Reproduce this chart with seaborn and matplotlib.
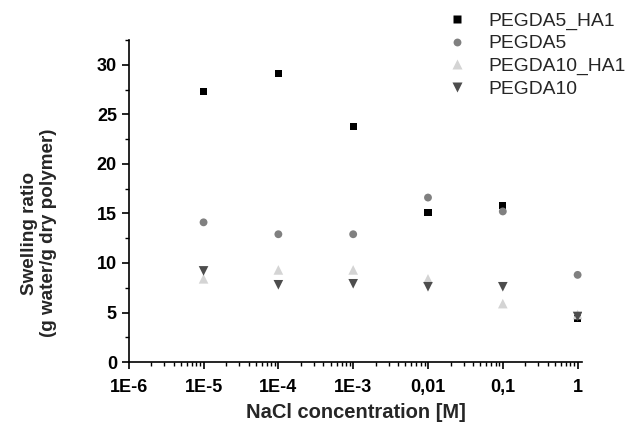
import matplotlib
matplotlib.use("Agg")
import matplotlib.pyplot as plt
import seaborn as sns
import pandas as pd
from matplotlib.ticker import FixedLocator, FixedFormatter, LogLocator, AutoMinorLocator, NullFormatter

sns.set_theme(style="white")
plt.rcParams['font.family'] = ['Liberation Sans', 'DejaVu Sans']

# NaCl concentration [M]
conc = [1e-5, 1e-4, 1e-3, 1e-2, 1e-1, 1]
tick_pos = [1e-6, 1e-5, 1e-4, 1e-3, 1e-2, 1e-1, 1]
tick_labels = ['1E-6', '1E-5', '1E-4', '1E-3', '0,01', '0,1', '1']

series_names = ['PEGDA5_HA1', 'PEGDA5', 'PEGDA10_HA1', 'PEGDA10']
pegda5_ha1 = [27.3, 29.1, 23.8, 15.1, 15.8, 4.4]
pegda5 = [14.1, 12.9, 12.9, 16.6, 15.2, 8.8]
pegda10_ha1 = [8.4, 9.3, 9.3, 8.4, 5.9, 4.8]
pegda10 = [9.2, 7.8, 7.9, 7.6, 7.6, 4.6]

rows = []
for name, vals in zip(series_names, [pegda5_ha1, pegda5, pegda10_ha1, pegda10]):
    for c, v in zip(conc, vals):
        rows.append({'conc': c, 'ratio': v, 'sample': name})
df = pd.DataFrame(rows)

colors = {'PEGDA5_HA1': '#000000', 'PEGDA5': '#808080',
          'PEGDA10_HA1': '#d4d4d4', 'PEGDA10': '#4d4d4d'}
markers = {'PEGDA5_HA1': 's', 'PEGDA5': 'o', 'PEGDA10_HA1': '^', 'PEGDA10': 'v'}
sizes = {'PEGDA5_HA1': 28, 'PEGDA5': 32, 'PEGDA10_HA1': 48, 'PEGDA10': 48}

fig = plt.figure(figsize=(6.28, 4.25), dpi=100)
ax = fig.add_axes([0.205, 0.148, 0.722, 0.758])

sns.scatterplot(data=df, x='conc', y='ratio', hue='sample', style='sample',
                size='sample', sizes=sizes, palette=colors, markers=markers,
                hue_order=series_names, style_order=series_names,
                size_order=series_names, edgecolor='none', ax=ax)

ax.set_xscale('log')
ax.set_xlim(1e-6, 1.15)
ax.set_ylim(0, 32.5)

ax.xaxis.set_major_locator(FixedLocator(tick_pos))
ax.xaxis.set_major_formatter(FixedFormatter(tick_labels))
ax.xaxis.set_minor_locator(LogLocator(base=10, subs=range(2, 10), numticks=20))
ax.xaxis.set_minor_formatter(NullFormatter())
ax.set_yticks([0, 5, 10, 15, 20, 25, 30])
ax.yaxis.set_minor_locator(AutoMinorLocator(2))

ax.tick_params(axis='both', which='major', direction='out', length=5, width=1.2,
               labelsize=13, color='black', labelcolor='black', bottom=True, left=True)
ax.tick_params(axis='x', which='major', pad=7)
ax.tick_params(axis='both', which='minor', direction='out', length=3, width=1,
               color='black', bottom=True, left=True)
for lab in ax.get_xticklabels() + ax.get_yticklabels():
    lab.set_fontweight('bold')

for side in ['top', 'right']:
    ax.spines[side].set_visible(False)
for side in ['left', 'bottom']:
    ax.spines[side].set_color('black')
    ax.spines[side].set_linewidth(1.2)

ax.set_xlabel('NaCl concentration [M]', fontsize=14.5, fontweight='bold', labelpad=5)
ax.set_ylabel('Swelling ratio\n(g water/g dry polymer)', fontsize=13.6,
              fontweight='bold')
ax.yaxis.set_label_coords(-0.158, 0.40)

handles, labels = ax.get_legend_handles_labels()
ax.legend_.remove()
fig.legend(handles, labels, loc='upper left', bbox_to_anchor=(0.685, 0.99),
           frameon=False, fontsize=13.9, handletextpad=0.6, labelspacing=0.27,
           borderaxespad=0)

fig.savefig('out.png', dpi=100)
